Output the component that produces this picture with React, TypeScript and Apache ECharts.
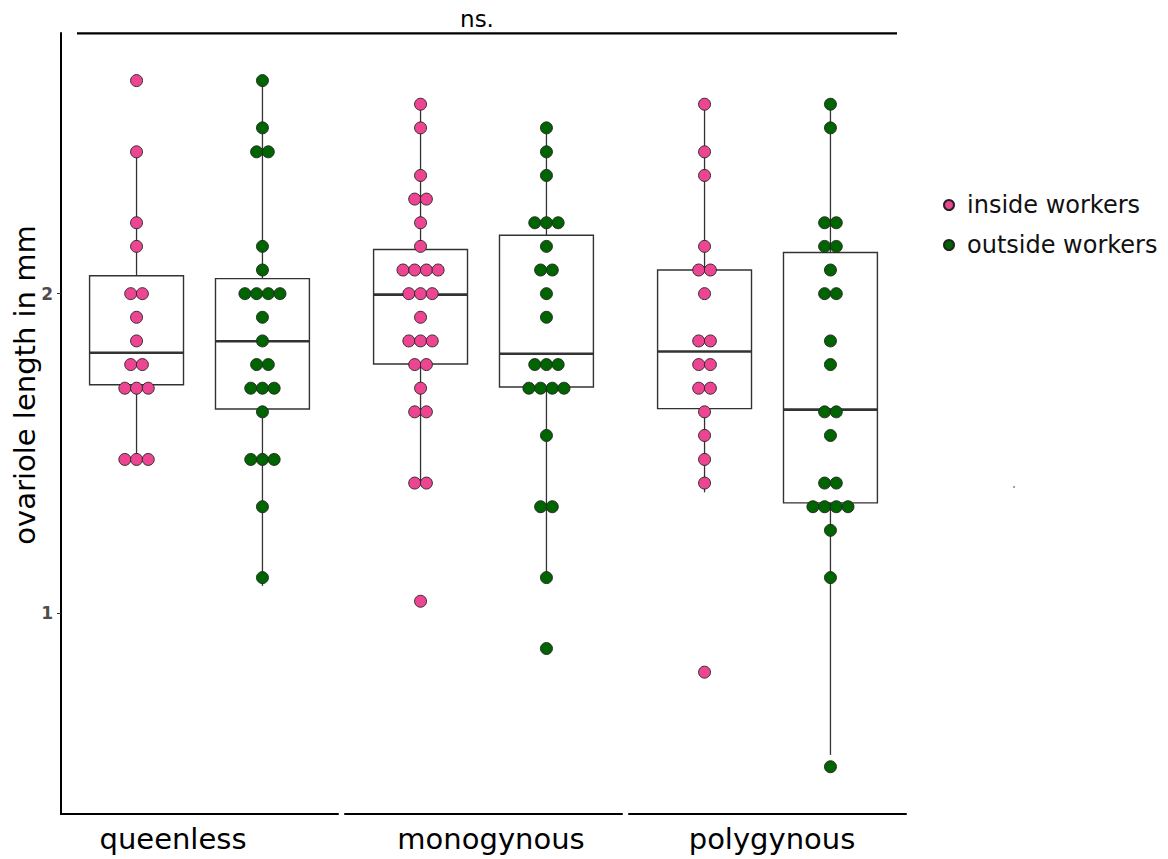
import React, { useEffect, useRef } from 'react';
import * as echarts from 'echarts';

const FONT = '"DejaVu Sans", "Liberation Sans", sans-serif';

// ---- categories ----
const groups = ['queenless', 'monogynous', 'polygynous'];
const seriesNames = ['inside workers', 'outside workers'];
const seriesColors = ['#ee4592', '#006400'];

// ---- individual ovariole lengths (mm), read from the dot stacks ----
const queenlessInside = [2.667, 2.444, 2.222, 2.148, 2.0, 2.0, 1.926, 1.852, 1.778, 1.778, 1.704, 1.704, 1.704, 1.481, 1.481, 1.481];
const queenlessOutside = [2.667, 2.519, 2.444, 2.444, 2.148, 2.074, 2.0, 2.0, 2.0, 2.0, 1.926, 1.852, 1.778, 1.778, 1.704, 1.704, 1.704, 1.63, 1.481, 1.481, 1.481, 1.333, 1.111];
const monogynousInside = [2.593, 2.519, 2.37, 2.296, 2.296, 2.222, 2.148, 2.074, 2.074, 2.074, 2.074, 2.0, 2.0, 2.0, 1.926, 1.852, 1.852, 1.852, 1.778, 1.778, 1.704, 1.63, 1.63, 1.407, 1.407, 1.037];
const monogynousOutside = [2.519, 2.444, 2.37, 2.222, 2.222, 2.222, 2.148, 2.074, 2.074, 2.0, 1.926, 1.778, 1.778, 1.778, 1.704, 1.704, 1.704, 1.704, 1.556, 1.333, 1.333, 1.111, 0.889];
const polygynousInside = [2.593, 2.444, 2.37, 2.148, 2.074, 2.074, 2.0, 1.852, 1.852, 1.778, 1.778, 1.704, 1.704, 1.63, 1.556, 1.481, 1.407, 0.815];
const polygynousOutside = [2.593, 2.519, 2.222, 2.222, 2.148, 2.148, 2.074, 2.0, 2.0, 1.852, 1.778, 1.63, 1.63, 1.556, 1.407, 1.407, 1.333, 1.333, 1.333, 1.333, 1.259, 1.111, 0.519];

// ---- box statistics [lower whisker, Q1, median, Q3, upper whisker] ----
const queenlessInsideBox = [1.481, 1.715, 1.815, 2.056, 2.444];
const queenlessOutsideBox = [1.085, 1.639, 1.851, 2.047, 2.667];
const monogynousInsideBox = [1.407, 1.78, 1.997, 2.138, 2.575];
const monogynousOutsideBox = [1.111, 1.708, 1.812, 2.183, 2.519];
const polygynousInsideBox = [1.378, 1.64, 1.819, 2.074, 2.593];
const polygynousOutsideBox = [0.556, 1.345, 1.637, 2.129, 2.593];

// ---- axis ----
const yTicks = [1, 2];
const yMin = 0.371;
const yMax = 2.816;
const significance = 'ns.';
const yTitle = 'ovariole length in mm';

const insideValues = [queenlessInside, monogynousInside, polygynousInside];
const outsideValues = [queenlessOutside, monogynousOutside, polygynousOutside];
const insideBoxes = [queenlessInsideBox, monogynousInsideBox, polygynousInsideBox];
const outsideBoxes = [queenlessOutsideBox, monogynousOutsideBox, polygynousOutsideBox];

// ---- layout (not data) ----
const GRID_LEFT = 61;
const GRID_STEP = 284;
const GRID_WIDTH = 277;
const GRID_TOP = 33;
const GRID_HEIGHT = 781;
const X_MIN = -1.1;
const X_MAX = 1.1;
const DODGE = 0.5;
const BOX_HALF = 0.373;
const DOT_SIZE = 12;
const DOT_STEP_PX = 11.7;
const LABEL_X = [173, 491, 772];

const pxPerUnit = GRID_WIDTH / (X_MAX - X_MIN);

function dotLayout(values: number[], xCenter: number) {
  const counts = new Map<number, number>();
  values.forEach((v) => counts.set(v, (counts.get(v) || 0) + 1));
  const out: number[][] = [];
  counts.forEach((n, v) => {
    for (let j = 0; j < n; j++) {
      out.push([xCenter + ((j - (n - 1) / 2) * DOT_STEP_PX) / pxPerUnit, v]);
    }
  });
  return out;
}

export default function App() {
  const ref = useRef<HTMLDivElement>(null);

  useEffect(() => {
    if (!ref.current) return;
    const chart = echarts.init(ref.current, undefined, { renderer: 'svg' });

    const grids: any[] = [];
    const xAxes: any[] = [];
    const yAxes: any[] = [];
    const series: any[] = [];

    groups.forEach((g, i) => {
      grids.push({ left: GRID_LEFT + i * GRID_STEP, top: GRID_TOP, width: GRID_WIDTH, height: GRID_HEIGHT });
      xAxes.push({
        gridIndex: i,
        type: 'value',
        min: X_MIN,
        max: X_MAX,
        position: 'bottom',
        axisLine: { show: true, onZero: false, lineStyle: { color: '#000', width: 2 } },
        axisTick: { show: false },
        axisLabel: { show: false },
        splitLine: { show: false },
      });
      yAxes.push({
        gridIndex: i,
        type: 'value',
        min: yMin,
        max: yMax,
        position: 'left',
        show: i === 0,
        axisLine: { show: true, onZero: false, lineStyle: { color: '#000', width: 2 } },
        axisTick: { show: true, length: 4, customValues: yTicks, lineStyle: { color: '#333', width: 1 } },
        axisLabel: {
          show: true,
          customValues: yTicks,
          margin: 8,
          color: '#4d4d4d',
          fontWeight: 'bold',
          fontSize: 17,
          fontFamily: FONT,
        },
        splitLine: { show: false },
      });

      series.push({
        type: 'custom',
        name: 'box-' + g,
        xAxisIndex: i,
        yAxisIndex: i,
        z: 1,
        silent: true,
        encode: { x: 0, y: [1, 2, 3, 4, 5] },
        data: [
          [-DODGE, ...insideBoxes[i]],
          [DODGE, ...outsideBoxes[i]],
        ],
        renderItem: (params: any, api: any) => {
          const x = api.value(0);
          const pMin = api.coord([x, api.value(1)]);
          const pQ1 = api.coord([x, api.value(2)]);
          const pMed = api.coord([x, api.value(3)]);
          const pQ3 = api.coord([x, api.value(4)]);
          const pMax = api.coord([x, api.value(5)]);
          const half = api.size([BOX_HALF, 0])[0];
          const stroke = '#333';
          return {
            type: 'group',
            children: [
              { type: 'line', shape: { x1: pMax[0], y1: pMax[1], x2: pQ3[0], y2: pQ3[1] }, style: { stroke, lineWidth: 1.3 } },
              { type: 'line', shape: { x1: pQ1[0], y1: pQ1[1], x2: pMin[0], y2: pMin[1] }, style: { stroke, lineWidth: 1.3 } },
              {
                type: 'rect',
                shape: { x: pQ3[0] - half, y: pQ3[1], width: 2 * half, height: pQ1[1] - pQ3[1] },
                style: { fill: '#fff', stroke, lineWidth: 1.4 },
              },
              {
                type: 'line',
                shape: { x1: pMed[0] - half, y1: pMed[1], x2: pMed[0] + half, y2: pMed[1] },
                style: { stroke, lineWidth: 2.6 },
              },
            ],
          };
        },
      });

      [insideValues[i], outsideValues[i]].forEach((vals, k) => {
        series.push({
          type: 'scatter',
          name: seriesNames[k],
          xAxisIndex: i,
          yAxisIndex: i,
          z: 3,
          symbol: 'circle',
          symbolSize: DOT_SIZE,
          itemStyle: { color: seriesColors[k], borderColor: '#222', borderWidth: 0.9, opacity: 1 },
          data: dotLayout(vals, k === 0 ? -DODGE : DODGE),
        });
      });
    });

    const graphic: any[] = [
      { type: 'line', shape: { x1: 77, y1: 33.3, x2: 897, y2: 33.3 }, style: { stroke: '#000', lineWidth: 2.2 } },
      {
        type: 'text',
        x: 477,
        y: 19,
        style: { text: significance, fontSize: 23, fontFamily: FONT, fill: '#000', align: 'center', verticalAlign: 'middle' },
      },
      {
        type: 'text',
        x: 25,
        y: 385,
        rotation: Math.PI / 2,
        style: { text: yTitle, fontSize: 29, fontFamily: FONT, fill: '#000', align: 'center', verticalAlign: 'middle' },
      },
      ...groups.map((g, i) => ({
        type: 'text',
        x: LABEL_X[i],
        y: 839,
        style: { text: g, fontSize: 29, fontFamily: FONT, fill: '#000', align: 'center', verticalAlign: 'middle' },
      })),
      { type: 'circle', shape: { cx: 1014, cy: 487, r: 0.8 }, style: { fill: '#666' } },
    ];

    chart.setOption({
      animation: false,
      backgroundColor: '#fff',
      grid: grids,
      xAxis: xAxes,
      yAxis: yAxes,
      legend: {
        orient: 'vertical',
        left: 938,
        top: 188,
        itemWidth: 26,
        itemHeight: 10,
        itemGap: 16,
        icon: 'circle',
        data: seriesNames,
        textStyle: { fontSize: 24, lineHeight: 24, color: '#111', fontFamily: FONT },
      },
      series,
      graphic,
    });

    return () => chart.dispose();
  }, []);

  return <div ref={ref} style={{ position: 'absolute', left: 0, top: 0, width: 1168, height: 859 }} />;
}
